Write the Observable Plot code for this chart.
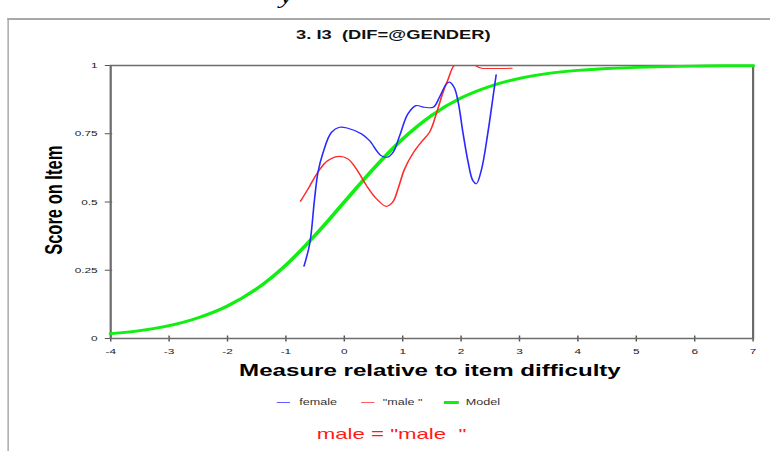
<!DOCTYPE html>
<html>
<head>
<meta charset="utf-8">
<script src="https://cdn.jsdelivr.net/npm/d3@7"></script>
<script src="https://cdn.jsdelivr.net/npm/@observablehq/plot@0.6"></script>
<style>
  html, body { margin: 0; padding: 0; background: #fff; }
  body { width: 770px; height: 451px; overflow: hidden; position: relative; }
  #stage { position: absolute; left: 0; top: 0; height: 451px; transform-origin: 0 0; font-family: 'Liberation Sans', Arial, sans-serif; }
  .t { position: absolute; white-space: pre; line-height: 1; }
</style>
</head>
<body>
<div id="stage"></div>
<script>
// ---- data ----
const xTicks = [-4, -3, -2, -1, 0, 1, 2, 3, 4, 5, 6, 7];
const yTicks = [0, 0.25, 0.5, 0.75, 1];

const modelX = [-4, -3.5, -3, -2.5, -2, -1.5, -1, -0.5, 0, 0.5, 1, 1.5, 2, 2.5, 3, 3.5, 4, 4.5, 5, 5.5, 6, 6.5, 7];
const modelY = [0.018, 0.029, 0.047, 0.076, 0.119, 0.182, 0.269, 0.378, 0.5, 0.622, 0.731, 0.818, 0.881, 0.924, 0.953, 0.971, 0.982, 0.989, 0.993, 0.996, 0.998, 0.999, 0.999];

const femaleX = [-0.69, -0.59, -0.51, -0.45, -0.365, -0.22, -0.08, 0.06, 0.29, 0.43, 0.63, 0.74, 0.83, 0.95, 1.09, 1.23, 1.375, 1.52, 1.63, 1.75, 1.80, 1.88, 1.95, 2.03, 2.12, 2.20, 2.26, 2.35, 2.46, 2.55, 2.60];
const femaleY = [0.265, 0.35, 0.51, 0.61, 0.68, 0.755, 0.774, 0.77, 0.75, 0.725, 0.67, 0.664, 0.68, 0.744, 0.823, 0.853, 0.847, 0.847, 0.884, 0.933, 0.939, 0.92, 0.866, 0.756, 0.646, 0.579, 0.567, 0.62, 0.756, 0.89, 0.966];

const maleX = [-0.75, -0.62, -0.45, -0.28, -0.08, 0.06, 0.21, 0.38, 0.55, 0.72, 0.83, 0.92, 1.03, 1.18, 1.32, 1.46, 1.575, 1.69, 1.78, 1.86, 1.93, 2.05, 2.15, 2.26, 2.35, 2.5, 2.7, 2.87];
const maleY = [0.503, 0.548, 0.61, 0.652, 0.667, 0.658, 0.62, 0.56, 0.512, 0.484, 0.50, 0.548, 0.62, 0.68, 0.72, 0.756, 0.823, 0.902, 0.951, 0.994, 1.01, 1.03, 1.02, 0.998, 0.99, 0.989, 0.989, 0.99];

const seriesNames = ["female", "\"male \"", "Model"];
const seriesColors = ["#2a2aff", "#ff2a2a", "#11ee11"];

const titleText = "3. I3  (DIF=@GENDER)";
const xLabel = "Measure relative to item difficulty";
const yLabel = "Score on Item";
const captionText = "male = \"male  \"";

// ---- build ----
const S = 1.48;               // horizontal stretch of the reference
const W = 770 / S, H = 451;
const stage = document.getElementById("stage");
stage.style.width = W + "px";
stage.style.transform = `scale(${S},1)`;

const toRows = (xs, ys) => xs.map((x, i) => ({x, y: ys[i]}));
const female = toRows(femaleX, femaleY);
const male = toRows(maleX, maleY);
const model = toRows(modelX, modelY);

function addText(txt, css) {
  const d = document.createElement("div");
  d.className = "t";
  d.textContent = txt;
  Object.assign(d.style, css);
  stage.appendChild(d);
  return d;
}

// outer page frame
const border = document.createElement("div");
Object.assign(border.style, {position: "absolute", left: "5px", top: "18px", width: "700px", height: "600px",
  borderTop: "2px solid #a8a8a8", borderLeft: "1.4px solid #a8a8a8"});
stage.appendChild(border);
// cropped glyph of document text above
addText("y", {left: "189px", top: "-14px", fontSize: "20px", fontFamily: "'Liberation Serif', serif", fontStyle: "italic", color: "#000"});

const chart = Plot.plot({
  width: W, height: H,
  marginLeft: 74.3, marginRight: 11.9, marginTop: 65, marginBottom: 113,
  x: {domain: [-4, 7]},
  y: {domain: [0, 1]},
  style: {fontFamily: "'Liberation Sans', Arial, sans-serif", fontSize: "8px", color: "#222", background: "transparent", overflow: "visible"},
  marks: [
    Plot.axisX({ticks: xTicks, tickFormat: d => String(d), tickSize: 6, dy: -2.5, tickPadding: 6, stroke: "#555", fill: "#222", label: null}),
    Plot.axisY({ticks: yTicks, tickFormat: d => String(d), tickSize: 5, dx: 1.5, tickPadding: 5.3, stroke: "#555", fill: "#222", label: null}),
    Plot.frame({stroke: "#6c6c6c", strokeWidth: 1.5}),
    Plot.line(model, {x: "x", y: "y", stroke: seriesColors[2], strokeWidth: 2.8, curve: "monotone-x"}),
    Plot.line(male, {x: "x", y: "y", stroke: seriesColors[1], strokeWidth: 1.1, curve: "catmull-rom", clip: true}),
    Plot.line(female, {x: "x", y: "y", stroke: seriesColors[0], strokeWidth: 1.1, curve: "catmull-rom", clip: true})
  ]
});
chart.style.position = "absolute";
chart.style.left = "0px";
chart.style.top = "0px";
stage.appendChild(chart);

// title
addText(titleText, {left: (265.8 - 150) + "px", width: "300px", textAlign: "center", top: "29px", fontSize: "12.4px", fontWeight: "bold", color: "#111"});
// x axis label
addText(xLabel, {left: (290.5 - 200) + "px", width: "400px", textAlign: "center", top: "362px", fontSize: "16.3px", fontWeight: "bold", color: "#000"});
// y axis label
addText(yLabel, {left: (36.2 - 80) + "px", width: "160px", height: "16.5px", textAlign: "center", top: (200 - 8.25) + "px", fontSize: "16.5px", fontWeight: "bold", color: "#000", transform: "rotate(-90deg)", transformOrigin: "50% 50%"});

// legend
const legendLines = [[187, 196.4], [244, 253.4], [300.2, 310.1]];
const legendText = [202.2, 258.6, 314.7];
const legendW = [1, 1, 3];
seriesNames.forEach((name, i) => {
  const ln = document.createElement("div");
  Object.assign(ln.style, {position: "absolute", left: legendLines[i][0] + "px", width: (legendLines[i][1] - legendLines[i][0]) + "px",
    top: (402 - legendW[i] / 2) + "px", height: legendW[i] + "px", background: seriesColors[i], opacity: i < 2 ? 0.75 : 1});
  stage.appendChild(ln);
  addText(name, {left: legendText[i] + "px", top: "397.8px", fontSize: "8.5px", color: "#333"});
});

// caption
addText(captionText, {left: "214px", top: "425.6px", fontSize: "15px", color: "#ff1a1a"});
</script>
</body>
</html>
